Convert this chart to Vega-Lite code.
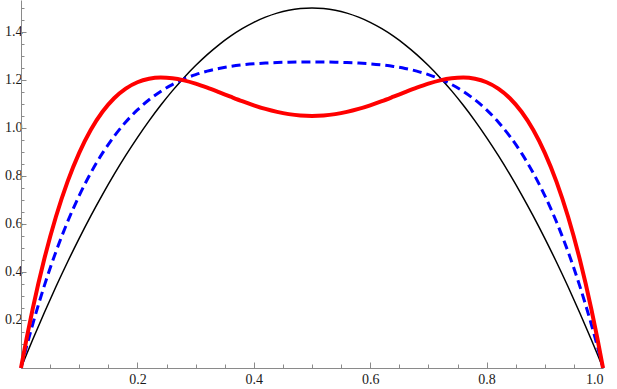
{
"$schema": "https://vega.github.io/schema/vega-lite/v6.json",
"width": 582, "height": 368,
"autosize": "none",
"padding": {"left": 21, "top": 0, "right": 14, "bottom": 21},
"config": {"view": {"stroke": null}, "axis": {"grid": false, "domainColor": "#8a8a8a", "tickColor": "#8a8a8a", "domainWidth": 1, "tickWidth": 1, "title": null, "labelFont": "Liberation Serif", "labelFontSize": 14, "labelColor": "#1a1a1a"}},
"data": {"values": [
{"x":0,"k":0,"b":0,"r":0},
{"x":0.01,"k":0.0594,"b":0.0933,"r":0.1272},
{"x":0.02,"k":0.1176,"b":0.1812,"r":0.2449},
{"x":0.04,"k":0.2304,"b":0.3421,"r":0.4538},
{"x":0.06,"k":0.3384,"b":0.4842,"r":0.63},
{"x":0.08,"k":0.4416,"b":0.6091,"r":0.7765},
{"x":0.10,"k":0.54,"b":0.7182,"r":0.8964},
{"x":0.12,"k":0.6336,"b":0.813,"r":0.9925},
{"x":0.14,"k":0.7224,"b":0.8949,"r":1.0674},
{"x":0.16,"k":0.8064,"b":0.9651,"r":1.1238},
{"x":0.18,"k":0.8856,"b":1.0248,"r":1.164},
{"x":0.20,"k":0.96,"b":1.0752,"r":1.1904},
{"x":0.22,"k":1.0296,"b":1.1173,"r":1.205},
{"x":0.24,"k":1.0944,"b":1.1522,"r":1.21},
{"x":0.26,"k":1.1544,"b":1.1807,"r":1.207},
{"x":0.28,"k":1.2096,"b":1.2038,"r":1.198},
{"x":0.30,"k":1.26,"b":1.2222,"r":1.1844},
{"x":0.32,"k":1.3056,"b":1.2367,"r":1.1677},
{"x":0.34,"k":1.3464,"b":1.2478,"r":1.1493},
{"x":0.36,"k":1.3824,"b":1.2563,"r":1.1303},
{"x":0.38,"k":1.4136,"b":1.2626,"r":1.1117},
{"x":0.40,"k":1.44,"b":1.2672,"r":1.0944},
{"x":0.42,"k":1.4616,"b":1.2704,"r":1.0792},
{"x":0.44,"k":1.4784,"b":1.2726,"r":1.0668},
{"x":0.46,"k":1.4904,"b":1.274,"r":1.0576},
{"x":0.48,"k":1.4976,"b":1.2748,"r":1.0519},
{"x":0.50,"k":1.5,"b":1.275,"r":1.05},
{"x":0.52,"k":1.4976,"b":1.2748,"r":1.0519},
{"x":0.54,"k":1.4904,"b":1.274,"r":1.0576},
{"x":0.56,"k":1.4784,"b":1.2726,"r":1.0668},
{"x":0.58,"k":1.4616,"b":1.2704,"r":1.0792},
{"x":0.60,"k":1.44,"b":1.2672,"r":1.0944},
{"x":0.62,"k":1.4136,"b":1.2626,"r":1.1117},
{"x":0.64,"k":1.3824,"b":1.2563,"r":1.1303},
{"x":0.66,"k":1.3464,"b":1.2478,"r":1.1493},
{"x":0.68,"k":1.3056,"b":1.2367,"r":1.1677},
{"x":0.70,"k":1.26,"b":1.2222,"r":1.1844},
{"x":0.72,"k":1.2096,"b":1.2038,"r":1.198},
{"x":0.74,"k":1.1544,"b":1.1807,"r":1.207},
{"x":0.76,"k":1.0944,"b":1.1522,"r":1.21},
{"x":0.78,"k":1.0296,"b":1.1173,"r":1.205},
{"x":0.80,"k":0.96,"b":1.0752,"r":1.1904},
{"x":0.82,"k":0.8856,"b":1.0248,"r":1.164},
{"x":0.84,"k":0.8064,"b":0.9651,"r":1.1238},
{"x":0.86,"k":0.7224,"b":0.8949,"r":1.0674},
{"x":0.88,"k":0.6336,"b":0.813,"r":0.9925},
{"x":0.90,"k":0.54,"b":0.7182,"r":0.8964},
{"x":0.92,"k":0.4416,"b":0.6091,"r":0.7765},
{"x":0.94,"k":0.3384,"b":0.4842,"r":0.63},
{"x":0.96,"k":0.2304,"b":0.3421,"r":0.4538},
{"x":0.98,"k":0.1176,"b":0.1812,"r":0.2449},
{"x":0.99,"k":0.0594,"b":0.0933,"r":0.1272},
{"x":1,"k":0,"b":0,"r":0}
]},
"layer": [
{"mark": {"type": "line", "color": "#000000", "strokeWidth": 1.5, "interpolate": "monotone"},
 "encoding": {
  "x": {"field": "x", "type": "quantitative", "scale": {"domain": [0, 1], "nice": false, "zero": false},
        "axis": {"orient": "bottom", "values": [0.2, 0.4, 0.6, 0.8, 1.0], "format": ".1f", "tickSize": -6, "labelPadding": 10,
                 "labelFont": "Liberation Serif", "labelFontSize": 14, "labelColor": "#1a1a1a"}},
  "y": {"field": "k", "type": "quantitative", "scale": {"domain": [0, 1.533], "nice": false},
        "axis": {"orient": "left", "values": [0.2, 0.4, 0.6, 0.8, 1.0, 1.2, 1.4], "format": ".1f", "tickSize": -5, "labelPadding": 4,
                 "labelFont": "Liberation Serif", "labelFontSize": 14, "labelColor": "#1a1a1a"}}
 }},
{"mark": {"type": "line", "color": "#0000ff", "strokeWidth": 3, "strokeDash": [9, 5], "interpolate": "monotone"},
 "encoding": {
  "x": {"field": "x", "type": "quantitative", "scale": {"domain": [0, 1], "nice": false, "zero": false},
        "axis": {"orient": "bottom", "values": [0.05,0.1,0.15,0.25,0.3,0.35,0.45,0.5,0.55,0.65,0.7,0.75,0.85,0.9,0.95], "labels": false, "domain": false, "tickSize": -4}},
  "y": {"field": "b", "type": "quantitative", "scale": {"domain": [0, 1.533], "nice": false},
        "axis": {"orient": "left", "values": [0.05,0.1,0.15,0.25,0.3,0.35,0.45,0.5,0.55,0.65,0.7,0.75,0.85,0.9,0.95,1.05,1.1,1.15,1.25,1.3,1.35,1.45,1.5], "labels": false, "domain": false, "tickSize": -3}}
 }},
{"mark": {"type": "line", "color": "#ff0000", "strokeWidth": 4, "interpolate": "monotone"},
 "encoding": {
  "x": {"field": "x", "type": "quantitative", "scale": {"domain": [0, 1], "nice": false, "zero": false}, "axis": null},
  "y": {"field": "r", "type": "quantitative", "scale": {"domain": [0, 1.533], "nice": false}, "axis": null}
 }}
],
"resolve": {"axis": {"x": "independent", "y": "independent"}}
}
